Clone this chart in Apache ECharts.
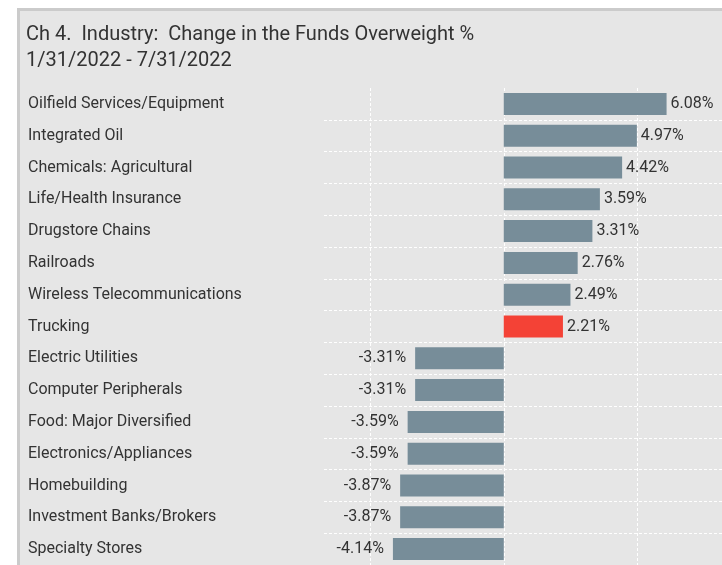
<!DOCTYPE html>
<html>
<head>
<meta charset="utf-8">
<script src="https://cdn.jsdelivr.net/npm/echarts@6/dist/echarts.min.js"></script>
<style>
  html, body { margin: 0; padding: 0; background: #fff; overflow: hidden; }
  #frame { position: absolute; left: 17px; top: 8px; width: 800px; height: 700px;
           border: 3px solid #cbcbcb; background: #e6e6e6; }
  #main { position: absolute; left: 0; top: 0; width: 722px; height: 565px; }
</style>
</head>
<body>
<div id="frame"></div>
<div id="main"></div>
<script>
// 行业分类
var categories = ['Oilfield Services/Equipment', 'Integrated Oil', 'Chemicals: Agricultural',
    'Life/Health Insurance', 'Drugstore Chains', 'Railroads', 'Wireless Telecommunications',
    'Trucking', 'Electric Utilities', 'Computer Peripherals', 'Food: Major Diversified',
    'Electronics/Appliances', 'Homebuilding', 'Investment Banks/Brokers', 'Specialty Stores'];
var values = [6.08, 4.97, 4.42, 3.59, 3.31, 2.76, 2.49, 2.21, -3.31, -3.31, -3.59, -3.59, -3.87, -3.87, -4.14];
var highlight = ['Trucking'];

var barColor = '#778d99';
var hiColor = '#f44236';
var gridLine = { color: '#fff', type: [3, 2], width: 1 };
var font = 'Roboto';

var seriesData = [];
values.forEach(function (v, i) {
    seriesData.push({
        value: v,
        itemStyle: { color: highlight.indexOf(categories[i]) >= 0 ? hiColor : barColor },
        label: { position: v < 0 ? 'left' : 'right', distance: v < 0 ? 9 : 4 }
    });
});

var myChart = echarts.init(document.getElementById('main'));
var option = {
    backgroundColor: 'transparent',
    animation: false,
    title: {
        text: 'Ch 4.  Industry:  Change in the Funds Overweight %\n1/31/2022 - 7/31/2022',
        left: 21,
        top: 17,
        textStyle: {
            fontFamily: font,
            fontWeight: 'normal',
            fontSize: 20,
            lineHeight: 26,
            color: '#333'
        }
    },
    // grid 0: 类目标签与横向虚线；grid 1: 柱子与纵向虚线
    grid: [
        { left: 324, right: 0, top: 88, height: 480 },
        { left: 236, right: 0, top: 88, height: 480 }
    ],
    xAxis: [{
        gridIndex: 0,
        type: 'value',
        min: 0,
        max: 1,
        show: false
    }, {
        gridIndex: 1,
        type: 'value',
        min: -10,
        max: 8.15,
        interval: 5,
        axisLine: { show: false },
        axisTick: { show: false },
        axisLabel: { show: false },
        splitLine: { show: true, showMinLine: false, showMaxLine: false, lineStyle: gridLine }
    }],
    yAxis: [{
        gridIndex: 0,
        type: 'category',
        inverse: true,
        data: categories,
        axisLine: { show: false },
        axisTick: { show: false },
        axisLabel: {
            align: 'left',
            margin: 296,
            padding: [3, 0, 0, 0],
            fontFamily: font,
            fontSize: 16,
            color: '#333'
        },
        splitLine: { show: true, showMinLine: false, lineStyle: gridLine }
    }, {
        gridIndex: 1,
        type: 'category',
        inverse: true,
        data: categories,
        axisLine: { show: false },
        axisTick: { show: false },
        axisLabel: { show: false },
        splitLine: { show: false }
    }],
    series: [{
        type: 'bar',
        xAxisIndex: 1,
        yAxisIndex: 1,
        barWidth: 22,
        label: {
            show: true,
            fontFamily: font,
            fontSize: 16,
            color: '#333',
            formatter: function (p) {
                return p.value.toFixed(2) + '%';
            }
        },
        data: seriesData
    }]
};
myChart.setOption(option);
</script>
</body>
</html>
